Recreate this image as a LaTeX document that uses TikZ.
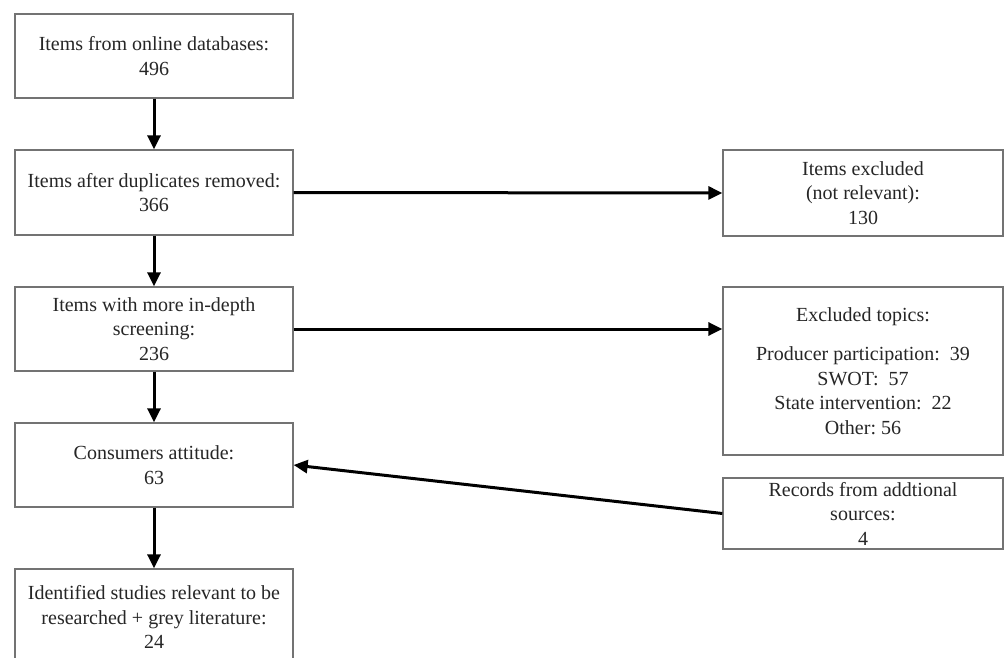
\documentclass[tikz,border=0pt]{standalone}
\usepackage{fontspec}
\setmainfont{Liberation Serif}
\usetikzlibrary{arrows.meta}
\definecolor{boxgray}{RGB}{115,115,115}
\begin{document}
\begin{tikzpicture}[x=1pt,y=-1pt,
  box/.style={draw=boxgray, line width=1.3pt, minimum width=278pt, align=center, inner sep=0pt,
              font=\fontsize{20}{24.5}\selectfont, text=black!85},
  flow/.style={line width=3pt, -{Triangle[length=14pt,width=13pt]}}]
\clip (0,0) rectangle (1007,658);
\fill[white] (0,0) rectangle (1007,658);
% left column
\node[box, minimum height=84pt] (b1) at (154,56) {Items from online databases:\\496};
\node[box, minimum height=85pt] (b2) at (154,192.5) {Items after duplicates removed:\\366};
\node[box, minimum height=84pt] (b3) at (154,329) {Items with more in-depth\\screening:\\236};
\node[box, minimum height=84pt] (b4) at (154,465) {Consumers attitude:\\63};
\node[box, minimum height=96pt] (b5) at (154,617) {Identified studies relevant to be\\researched + grey literature:\\24};
% right column
\node[box, minimum width=280pt, minimum height=86pt] (r1) at (863,193) {Items excluded\\(not relevant):\\130};
\node[box, minimum width=280pt, minimum height=168pt] (r2) at (863,371) {Excluded topics:\\[14.5pt]Producer participation:\ \ 39\\SWOT:\ \ 57\\State intervention:\ \ 22\\Other:\ 56};
\node[box, minimum width=280pt, minimum height=71pt] (r3) at (863,513.5) {Records from addtional\\sources:\\4};
% connectors
\draw[flow] (b1) -- (b2);
\draw[flow] (b2) -- (b3);
\draw[flow] (b3) -- (b4);
\draw[flow] (b4) -- (b5);
\draw[flow] (b2.east) -- (r1.west);
\draw[flow] (b3.east) -- (b3.east -| r2.west);
\draw[flow] (r3.west) -- (b4.east);
\end{tikzpicture}
\end{document}
